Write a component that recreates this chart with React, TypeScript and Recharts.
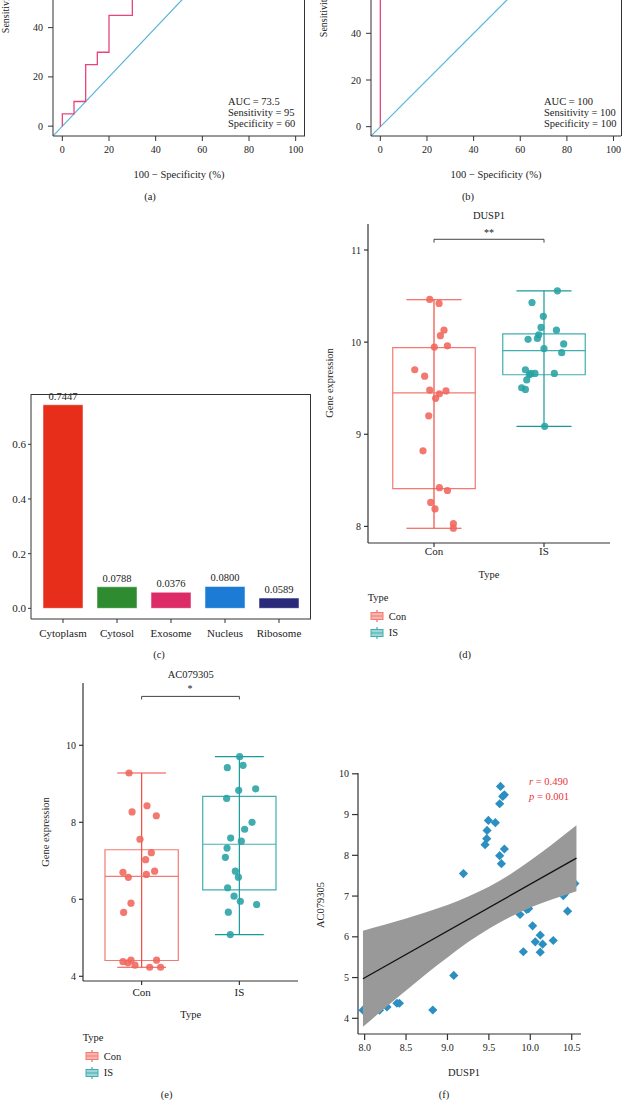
import React from "react";
import {
  Area,
  Bar,
  Cell,
  ComposedChart,
  LabelList,
  Line,
  ReferenceArea,
  ReferenceLine,
  Scatter,
  XAxis,
  YAxis
} from "recharts";

const FONT = "'Liberation Serif', 'DejaVu Serif', serif";
const INK = "#222";
const AXIS = "#333";

// (a) / (b) ROC curves, x = 100 - specificity, y = sensitivity
const rocAx = [0, 0, 5, 5, 10, 10, 15, 15, 20, 20, 30, 30, 35, 35, 40, 40, 60, 60, 100];
const rocAy = [0, 5, 5, 10, 10, 25, 25, 30, 30, 45, 45, 60, 60, 70, 70, 95, 95, 100, 100];
const rocBx = [0, 0, 100];
const rocBy = [0, 100, 100];
const rocTicks = [0, 20, 40, 60, 80, 100];
const rocStatsA = ["AUC = 73.5", "Sensitivity = 95", "Specificity = 60"];
const rocStatsB = ["AUC = 100", "Sensitivity = 100", "Specificity = 100"];

// (c) subcellular localisation
const locations = ["Cytoplasm", "Cytosol", "Exosome", "Nucleus", "Ribosome"];
const locHeights = [0.7447, 0.0788, 0.0589, 0.08, 0.0376];
const locLabels = ["0.7447", "0.0788", "0.0376", "0.0800", "0.0589"];
const locColors = ["#E62E1B", "#2E8B30", "#DC2B66", "#1B7BD5", "#2B2A7A"];
const locTicks = [0, 0.2, 0.4, 0.6];

// (d) / (e) box plots, jittered points as [x, value]
const groups = ["Con", "IS"];
type Pt = [number, number];
const dusp1Con: Pt[] = [
  [0.961, 10.463], [1.046, 10.42], [1.091, 10.13], [1.058, 10.07], [1.003, 9.946],
  [1.122, 9.96], [0.825, 9.7], [0.915, 9.63], [0.961, 9.48], [1.049, 9.44],
  [1.109, 9.47], [1.015, 9.39], [0.952, 9.2], [0.9, 8.82], [1.049, 8.42],
  [1.122, 8.39], [0.97, 8.26], [1.009, 8.19], [1.176, 8.03], [1.176, 7.98]
];
const dusp1Is: Pt[] = [
  [2.122, 10.557], [1.891, 10.43], [1.994, 10.28], [1.973, 10.16], [2.113, 10.13],
  [1.952, 10.08], [1.855, 10.03], [1.94, 10.04], [2.179, 9.98], [2.0, 9.93],
  [2.161, 9.885], [1.831, 9.7], [1.867, 9.646], [1.918, 9.66], [2.094, 9.66],
  [1.843, 9.59], [1.797, 9.505], [1.831, 9.487], [2.006, 9.086], [1.88, 9.66]
];
const dusp1ConBox = [7.98, 8.41, 9.45, 9.94, 10.46];
const dusp1IsBox = [9.086, 9.646, 9.907, 10.09, 10.557];
const dusp1Ticks = [8, 9, 10, 11];

const acCon: Pt[] = [
  [0.871, 9.28], [1.055, 8.43], [0.902, 8.27], [1.15, 8.17], [0.983, 7.56],
  [1.099, 7.21], [1.041, 7.03], [1.133, 6.73], [0.809, 6.7], [1.048, 6.645],
  [0.864, 6.57], [0.891, 5.9], [0.816, 5.66], [0.809, 4.38], [0.891, 4.42],
  [0.86, 4.35], [0.932, 4.29], [1.153, 4.42], [1.082, 4.235], [1.194, 4.235]
];
const acIs: Pt[] = [
  [2.003, 9.705], [1.877, 9.42], [2.038, 9.48], [1.993, 8.83], [2.167, 8.87],
  [1.87, 8.62], [2.13, 8.0], [2.054, 7.82], [1.911, 7.59], [2.02, 7.51],
  [1.874, 7.33], [1.857, 7.09], [1.959, 6.73], [1.99, 6.575], [1.88, 6.3],
  [1.946, 6.08], [2.01, 5.95], [2.177, 5.865], [1.887, 5.665], [1.907, 5.085]
];
const acConBox = [4.235, 4.41, 6.593, 7.287, 9.28];
const acIsBox = [5.085, 6.247, 7.43, 8.674, 9.705];
const acTicks = [4, 6, 8, 10];

// (f) DUSP1 vs AC079305
const corrPoints: Pt[] = [
  [9.64, 9.69], [9.667, 9.445], [9.687, 9.486], [9.63, 9.265], [9.494, 8.857],
  [9.578, 8.8], [9.478, 8.612], [9.474, 8.408], [9.454, 8.261], [9.687, 8.155],
  [9.63, 7.992], [9.651, 7.796], [9.193, 7.551], [9.876, 6.547], [9.956, 6.67],
  [9.98, 6.694], [10.028, 6.27], [10.12, 6.04], [10.06, 5.878], [10.149, 5.82],
  [10.277, 5.91], [9.916, 5.633], [10.12, 5.624], [10.398, 7.012], [10.418, 7.06],
  [10.45, 6.63], [10.538, 7.306], [9.076, 5.053], [8.823, 4.204], [7.98, 4.2],
  [8.18, 4.2], [8.27, 4.28], [8.39, 4.37], [8.42, 4.37], [8.03, 4.24],
  [9.39, 6.57], [9.44, 6.7], [9.47, 6.65], [9.2, 6.4], [10.46, 7.3]
];
const fitX = [7.98, 10.557];
const fitY = [4.97, 7.93];
const bandX = [7.98, 8.25, 8.5, 8.75, 9.0, 9.25, 9.5, 9.75, 10.0, 10.25, 10.557];
const bandLo = [3.79, 4.26, 4.68, 5.1, 5.49, 5.87, 6.2, 6.48, 6.72, 6.91, 7.12];
const bandHi = [6.15, 6.3, 6.45, 6.61, 6.78, 6.99, 7.23, 7.52, 7.87, 8.25, 8.74];
const corrXTicks = [8, 8.5, 9, 9.5, 10, 10.5];
const corrYTicks = [4, 5, 6, 7, 8, 9, 10];

const CON = { dot: "#F0655C", whisker: "#F04A40", box: "#F27A72", fill: "#F9B6B0" };
const IS = { dot: "#27A2A4", whisker: "#1A9A9C", box: "#40AEB1", fill: "#9ED6D7" };

const toXY = (pts: Pt[]) => pts.map(([x, y]) => ({ x, y }));
const zip = (xs: number[], ys: number[]) => xs.map((x, i) => ({ x, y: ys[i] }));

const tickStyle = { fill: INK, fontSize: 10, fontFamily: FONT };

type TxtProps = {
  x: number;
  y: number;
  size?: number;
  anchor?: "start" | "middle" | "end";
  color?: string;
  rotate?: boolean;
  children: React.ReactNode;
};

function Txt({ x, y, size = 10.5, anchor = "middle", color = INK, rotate, children }: TxtProps) {
  const tx = anchor === "middle" ? "-50%" : anchor === "end" ? "-100%" : "0";
  return (
    <div
      style={{
        position: "absolute",
        left: x,
        top: y,
        transform: `translate(${rotate ? "-50%" : tx}, -50%)${rotate ? " rotate(-90deg)" : ""}`,
        fontSize: size,
        lineHeight: 1,
        color,
        whiteSpace: "nowrap",
        fontFamily: FONT
      }}
    >
      {children}
    </div>
  );
}

function Box({ left, top, w, h, children }: { left: number; top: number; w: number; h: number; children: React.ReactNode }) {
  return <div style={{ position: "absolute", left, top, width: w, height: h }}>{children}</div>;
}

function RocPanel({
  left, top, width, height, xMax, pathX, pathY
}: { left: number; top: number; width: number; height: number; xMax: number; pathX: number[]; pathY: number[] }) {
  return (
    <Box left={left} top={top} w={width} h={height}>
      <ComposedChart width={width} height={height} margin={{ top: 10, right: 0, bottom: 0, left: 0 }}>
        <XAxis
          type="number"
          dataKey="x"
          domain={[-4, xMax]}
          ticks={rocTicks}
          allowDataOverflow
          height={30}
          tickSize={5}
          tickMargin={5}
          stroke={AXIS}
          tick={tickStyle}
        />
        <YAxis
          type="number"
          dataKey="y"
          domain={[-4, 104]}
          ticks={rocTicks}
          allowDataOverflow
          width={53}
          tickSize={5}
          tickMargin={5}
          stroke={AXIS}
          tick={tickStyle}
        />
        <Line
          data={zip([-4, 104], [-4, 104])}
          dataKey="y"
          stroke="#55B4DA"
          strokeWidth={1.2}
          dot={false}
          isAnimationActive={false}
        />
        <Line
          data={zip(pathX, pathY)}
          dataKey="y"
          stroke="#E8457A"
          strokeWidth={1.3}
          dot={false}
          isAnimationActive={false}
        />
      </ComposedChart>
    </Box>
  );
}

function boxParts(pos: number, s: number[], c: typeof CON, key: string) {
  const [mn, q1, md, q3, mx] = s;
  const w = { strokeWidth: 1.2, ifOverflow: "visible" as const };
  return [
    <ReferenceLine key={key + "v"} segment={[{ x: pos, y: mn }, { x: pos, y: mx }]} stroke={c.whisker} {...w} />,
    <ReferenceLine key={key + "lo"} segment={[{ x: pos - 0.25, y: mn }, { x: pos + 0.25, y: mn }]} stroke={c.whisker} {...w} />,
    <ReferenceLine key={key + "hi"} segment={[{ x: pos - 0.25, y: mx }, { x: pos + 0.25, y: mx }]} stroke={c.whisker} {...w} />,
    <ReferenceArea
      key={key + "b"}
      x1={pos - 0.375}
      x2={pos + 0.375}
      y1={q1}
      y2={q3}
      fill="none"
      fillOpacity={0}
      stroke={c.box}
      strokeWidth={1.2}
      ifOverflow="visible"
    />,
    <ReferenceLine key={key + "m"} segment={[{ x: pos - 0.375, y: md }, { x: pos + 0.375, y: md }]} stroke={c.box} {...w} />
  ];
}

const dot = (color: string) => (p: any) => (
  <circle cx={p.cx} cy={p.cy} r={3.6} fill={color} fillOpacity={0.88} />
);

const diamond = (p: any) => {
  const r = 4.6;
  return (
    <polygon
      points={`${p.cx},${p.cy - r} ${p.cx + r},${p.cy} ${p.cx},${p.cy + r} ${p.cx - r},${p.cy}`}
      fill="#2B8FC2"
    />
  );
};

function BoxPanel({
  left, top, width, height, yDomain, ticks, con, is, conBox, isBox, bracketY, tipY, tickGap
}: {
  left: number; top: number; width: number; height: number; yDomain: [number, number]; ticks: number[];
  con: Pt[]; is: Pt[]; conBox: number[]; isBox: number[]; bracketY: number; tipY: number; tickGap: number;
}) {
  const bc = { stroke: "#444", strokeWidth: 1, ifOverflow: "visible" as const };
  return (
    <Box left={left} top={top} w={width} h={height}>
      <ComposedChart width={width} height={height} margin={{ top: 10, right: 0, bottom: 0, left: 0 }}>
        <XAxis
          type="number"
          dataKey="x"
          domain={[0.4, 2.6]}
          ticks={[1, 2]}
          tickFormatter={(v: number) => groups[v - 1]}
          allowDataOverflow
          height={25}
          tickSize={4}
          tickMargin={tickGap}
          stroke={AXIS}
          strokeWidth={1.2}
          tick={{ ...tickStyle, fontSize: 11 }}
        />
        <YAxis
          type="number"
          dataKey="y"
          domain={yDomain}
          ticks={ticks}
          allowDataOverflow
          width={40}
          tickSize={4}
          tickMargin={3}
          stroke={AXIS}
          strokeWidth={1.2}
          tick={tickStyle}
        />
        {boxParts(1, conBox, CON, "con")}
        {boxParts(2, isBox, IS, "is")}
        <ReferenceLine segment={[{ x: 1, y: bracketY }, { x: 2, y: bracketY }]} {...bc} />
        <ReferenceLine segment={[{ x: 1, y: tipY }, { x: 1, y: bracketY }]} {...bc} />
        <ReferenceLine segment={[{ x: 2, y: tipY }, { x: 2, y: bracketY }]} {...bc} />
        <Scatter data={toXY(con)} shape={dot(CON.dot)} isAnimationActive={false} />
        <Scatter data={toXY(is)} shape={dot(IS.dot)} isAnimationActive={false} />
      </ComposedChart>
    </Box>
  );
}

function KeyIcon({ c }: { c: typeof CON }) {
  return (
    <svg width={14} height={12} style={{ display: "block" }}>
      <line x1={7} y1={0} x2={7} y2={12} stroke={c.whisker} strokeWidth={1} />
      <rect x={1} y={2.5} width={12} height={7} fill={c.fill} stroke={c.box} strokeWidth={1} />
      <line x1={1} y1={6} x2={13} y2={6} stroke={c.box} strokeWidth={1} />
    </svg>
  );
}

function TypeLegend({ x, y }: { x: number; y: number }) {
  return (
    <>
      <Txt x={x} y={y} anchor="start" size={10.5}>Type</Txt>
      <div style={{ position: "absolute", left: x + 2, top: y + 12 }}><KeyIcon c={CON} /></div>
      <Txt x={x + 21} y={y + 18.3} anchor="start" size={10.5}>{groups[0]}</Txt>
      <div style={{ position: "absolute", left: x + 2, top: y + 29 }}><KeyIcon c={IS} /></div>
      <Txt x={x + 21} y={y + 35} anchor="start" size={10.5}>{groups[1]}</Txt>
    </>
  );
}

export default function App() {
  const bars = locations.map((name, i) => ({ name, value: locHeights[i], label: locLabels[i] }));
  const band = bandX.map((x, i) => ({ x, band: [bandLo[i], bandHi[i]] }));

  return (
    <div
      style={{
        position: "absolute",
        left: 0,
        top: 0,
        width: 622,
        height: 1110,
        overflow: "hidden",
        background: "#fff",
        fontFamily: FONT,
        color: INK
      }}
    >
      {/* (a) */}
      <RocPanel left={0} top={-140} width={305} height={306} xMax={104} pathX={rocAx} pathY={rocAy} />
      <div style={{ position: "absolute", left: 304, top: 0, width: 1.2, height: 136, background: AXIS }} />
      <Txt x={6} y={3} rotate size={10}>Sensitivity (%)</Txt>
      {rocStatsA.map((s, i) => (
        <Txt key={s} x={228} y={101.7 + i * 11.2} anchor="start" size={10.5}>{s}</Txt>
      ))}
      <Txt x={179} y={175}>100 − Specificity (%)</Txt>
      <Txt x={150} y={197}>(a)</Txt>

      {/* (b) */}
      <RocPanel left={318} top={-126} width={303} height={292} xMax={103.2} pathX={rocBx} pathY={rocBy} />
      <div style={{ position: "absolute", left: 620.5, top: 0, width: 1.2, height: 136, background: AXIS }} />
      <Txt x={324} y={7} rotate size={10}>Sensitivity (%)</Txt>
      {rocStatsB.map((s, i) => (
        <Txt key={s} x={544} y={101.7 + i * 11} anchor="start" size={10.5}>{s}</Txt>
      ))}
      <Txt x={496} y={175}>100 − Specificity (%)</Txt>
      <Txt x={468} y={197}>(b)</Txt>

      {/* (c) */}
      <Box left={0} top={384} w={311} h={265}>
        <ComposedChart width={311} height={265} data={bars} margin={{ top: 10, right: 0, bottom: 0, left: 0 }}>
          <XAxis
            dataKey="name"
            height={30}
            padding={{ left: 5, right: 5 }}
            tickSize={4}
            tickMargin={6}
            stroke={AXIS}
            tick={{ ...tickStyle, fontSize: 11 }}
            interval={0}
          />
          <YAxis
            type="number"
            domain={[-0.039, 0.784]}
            ticks={locTicks}
            tickFormatter={(v: number) => v.toFixed(1)}
            allowDataOverflow
            width={31}
            tickSize={3}
            tickMargin={2}
            stroke={AXIS}
            tick={{ ...tickStyle, fontSize: 11 }}
          />
          <Bar dataKey="value" barSize={40} isAnimationActive={false} stroke="#ffffff" strokeOpacity={0.5}>
            {bars.map((b, i) => (
              <Cell key={b.name} fill={locColors[i]} />
            ))}
            <LabelList dataKey="label" position="top" offset={5} fill={INK} fontSize={10.5} fontFamily={FONT} />
          </Bar>
        </ComposedChart>
      </Box>
      <div
        style={{
          position: "absolute",
          left: 31,
          top: 394,
          width: 280,
          height: 225,
          borderTop: `1px solid ${AXIS}`,
          borderRight: `1px solid ${AXIS}`,
          boxSizing: "border-box"
        }}
      />
      <Txt x={159} y={655}>(c)</Txt>

      {/* (d) */}
      <BoxPanel
        left={328}
        top={214}
        width={282}
        height={354}
        yDomain={[7.82, 11.282]}
        ticks={dusp1Ticks}
        con={dusp1Con}
        is={dusp1Is}
        conBox={dusp1ConBox}
        isBox={dusp1IsBox}
        bracketY={11.116}
        tipY={11.08}
        tickGap={0}
      />
      <Txt x={489} y={216}>DUSP1</Txt>
      <Txt x={489} y={233} size={10}>**</Txt>
      <Txt x={330} y={383} rotate size={10.5}>Gene expression</Txt>
      <Txt x={489} y={575}>Type</Txt>
      <TypeLegend x={367.7} y={598.3} />
      <Txt x={465} y={655}>(d)</Txt>

      {/* (e) */}
      <BoxPanel
        left={43}
        top={673}
        width={255}
        height={333}
        yDomain={[3.878, 11.618]}
        ticks={acTicks}
        con={acCon}
        is={acIs}
        conBox={acConBox}
        isBox={acIsBox}
        bracketY={11.27}
        tipY={11.19}
        tickGap={3}
      />
      <Txt x={190.7} y={675}>AC079305</Txt>
      <Txt x={190} y={689} size={10}>*</Txt>
      <Txt x={46} y={832} rotate size={10.5}>Gene expression</Txt>
      <Txt x={190.7} y={1015}>Type</Txt>
      <TypeLegend x={82.7} y={1038.3} />
      <Txt x={166.7} y={1095}>(e)</Txt>

      {/* (f) */}
      <Box left={328} top={763} w={253} h={296}>
        <ComposedChart width={253} height={296} margin={{ top: 10, right: 0, bottom: 0, left: 0 }}>
          <XAxis
            type="number"
            dataKey="x"
            domain={[7.92, 10.612]}
            ticks={corrXTicks}
            tickFormatter={(v: number) => v.toFixed(1)}
            allowDataOverflow
            height={25}
            tickSize={6}
            tickMargin={4}
            stroke={AXIS}
            strokeWidth={1.2}
            tick={tickStyle}
          />
          <YAxis
            type="number"
            dataKey="y"
            domain={[3.615, 10.02]}
            ticks={corrYTicks}
            allowDataOverflow
            width={30}
            tickSize={6}
            tickMargin={3}
            stroke={AXIS}
            strokeWidth={1.2}
            tick={tickStyle}
          />
          <Scatter data={toXY(corrPoints)} shape={diamond} isAnimationActive={false} zIndex={300} />
          <Area
            data={band}
            dataKey="band"
            type="monotone"
            stroke="none"
            fill="#999999"
            fillOpacity={1}
            isAnimationActive={false}
            zIndex={700}
          />
          <Line
            data={zip(fitX, fitY)}
            dataKey="y"
            stroke="#111"
            strokeWidth={1.3}
            dot={false}
            isAnimationActive={false}
            zIndex={800}
          />
        </ComposedChart>
      </Box>
      <Txt x={529} y={782.3} anchor="start" color="#E8333A">
        <i>r</i> = 0.490
      </Txt>
      <Txt x={529} y={797.3} anchor="start" color="#E8333A">
        <i>p</i> = 0.001
      </Txt>
      <Txt x={321} y={905} rotate>AC079305</Txt>
      <Txt x={464} y={1073}>DUSP1</Txt>
      <Txt x={444} y={1095}>(f)</Txt>
    </div>
  );
}
